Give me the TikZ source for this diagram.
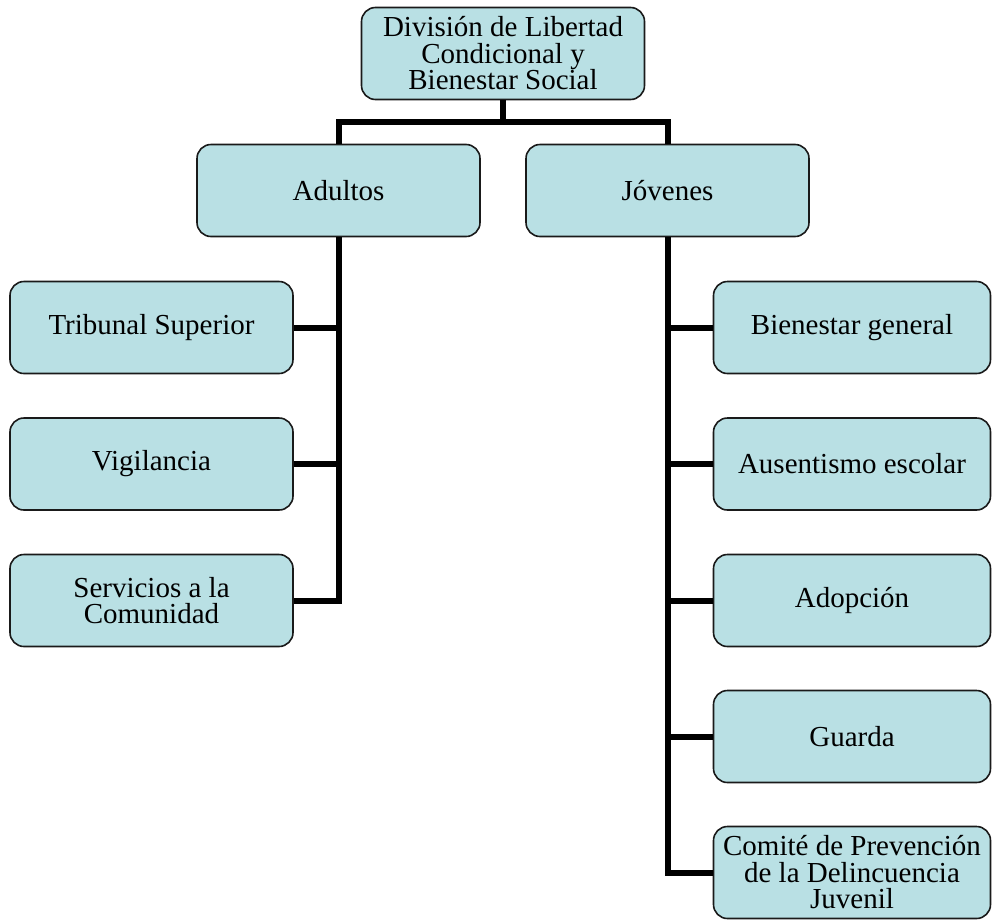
\documentclass[tikz,border=0pt]{standalone}
\usepackage{fontspec}
\setmainfont{Liberation Serif}
\usetikzlibrary{positioning, calc}
\definecolor{orgblue}{HTML}{B9E0E4}
\definecolor{orgline}{HTML}{1A1A1A}

\begin{document}
\begin{tikzpicture}[
          x=1pt, y=-1pt,
          every node/.style={font=\fontsize{29}{26.5}\selectfont},
          orgbox/.style={draw=orgline, line width=1.6pt, rounded corners=14pt,
            fill=orgblue, minimum width=283pt, minimum height=92pt,
            inner sep=0pt, align=center},
          rightbox/.style={orgbox, minimum width=277pt},
          orgconn/.style={line width=6pt, black},
        ]
        \useasboundingbox (0,0) rectangle (992,921);

        % Top level
        \node[orgbox] (division) at (503,53.5) {División de Libertad\\Condicional y\\Bienestar Social};
        \node[orgbox] (adultos) at (338.5,190.5) {Adultos};
        \node[orgbox] (jovenes) at (667.5,190.5) {Jóvenes};

        % Adultos branch
        \node[orgbox] (tribunal) at (151.5,327.5) {Tribunal Superior};
        \node[orgbox] (vigilancia) at (151.5,464) {Vigilancia};
        \node[orgbox] (servicios) at (151.5,600.5) {Servicios a la\\Comunidad};

        % Jovenes branch
        \node[rightbox] (bienestar) at (852,327.5) {Bienestar general};
        \node[rightbox] (ausentismo) at (852,464) {Ausentismo escolar};
        \node[rightbox] (adopcion) at (852,600.5) {Adopción};
        \node[rightbox] (guarda) at (852,736.5) {Guarda};
        \node[rightbox] (comite) at (852,872.5) {Comité de Prevención\\de la Delincuencia\\Juvenil};

        % Connectors
        \coordinate (bus) at (503,122);
        \draw[orgconn] (division.south) -- (bus);
        \draw[orgconn] (adultos.north) |- (bus) -| (jovenes.north);
        \draw[orgconn] (adultos.south) |- (servicios.east);
        \foreach \n in {tribunal, vigilancia} {
          \draw[orgconn] (\n.east) -- (\n.east -| adultos.south);
        }
        \draw[orgconn] (jovenes.south) |- (comite.west);
        \foreach \n in {bienestar, ausentismo, adopcion, guarda} {
          \draw[orgconn] (\n.west) -- (\n.west -| jovenes.south);
        }
      \end{tikzpicture}
\end{document}
